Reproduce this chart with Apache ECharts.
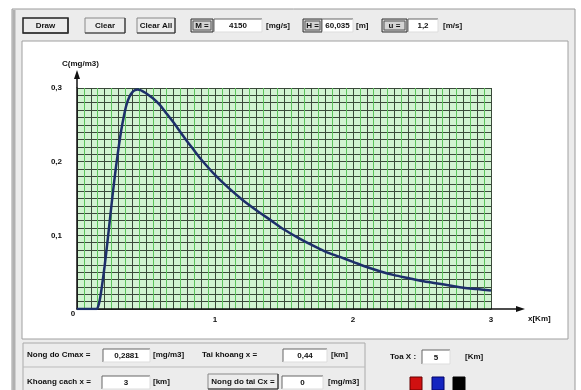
<!DOCTYPE html>
<html><head><meta charset="utf-8">
<script src="https://cdn.jsdelivr.net/npm/echarts@6/dist/echarts.min.js"></script>
<style>html,body{margin:0;padding:0;background:#fff}#c{width:581px;height:390px}</style>
</head><body><div id="c"></div>
<script>
// distance x [km]
const xKm = [0, 0.05, 0.1, 0.14, 0.16, 0.18, 0.2, 0.22, 0.24, 0.26, 0.28, 0.3, 0.32, 0.34, 0.36, 0.38, 0.4, 0.42, 0.44, 0.46, 0.48, 0.5, 0.55, 0.6, 0.65, 0.7, 0.75, 0.8, 0.85, 0.9, 1.0, 1.1, 1.2, 1.3, 1.4, 1.5, 1.6, 1.7, 1.8, 1.9, 2.0, 2.1, 2.2, 2.3, 2.4, 2.5, 2.6, 2.7, 2.8, 2.9, 3.0];
// concentration C [mg/m3]
const cVal = [0, 0, 0, 0, 0.008, 0.030, 0.058, 0.090, 0.124, 0.158, 0.189, 0.217, 0.242, 0.262, 0.278, 0.288, 0.294, 0.297, 0.298, 0.297, 0.295, 0.293, 0.286, 0.277, 0.265, 0.253, 0.240, 0.227, 0.215, 0.203, 0.182, 0.164, 0.148, 0.134, 0.121, 0.108, 0.097, 0.087, 0.078, 0.071, 0.064, 0.057, 0.051, 0.046, 0.042, 0.038, 0.035, 0.032, 0.029, 0.027, 0.025];
const yTickLabels = ['0,1', '0,2', '0,3'];
const xTickLabels = ['1', '2', '3'];
const topFields = { M: '4150', H: '60,035', u: '1,2' };
const bottomFields = { cmax: '0,2881', xmax: '0,44', dist: '3', cx: '0', toaX: '5' };

const FONT = 'Liberation Sans, Arial, sans-serif';
const g = [];
function rect(x, y, w, h, fill, stroke, lw, z) {
  g.push({ type: 'rect', z: z == null ? 50 : z, shape: { x, y, width: w, height: h }, style: { fill: fill || 'none', stroke: stroke || null, lineWidth: lw || 1 }, silent: true });
}
function line(x1, y1, x2, y2, stroke, lw, z) {
  g.push({ type: 'line', z: z == null ? 50 : z, shape: { x1, y1, x2, y2 }, style: { stroke, lineWidth: lw || 1 }, silent: true });
}
function text(t, x, y, align, size) {
  g.push({ type: 'text', z: 60, x, y, style: { text: t, fill: '#111', font: 'bold ' + (size || 8) + 'px ' + FONT, textAlign: align || 'left', textVerticalAlign: 'middle' }, silent: true });
}
function textbox(x, y, w, h, t) {
  rect(x, y, w, h, '#fff', null);
  line(x, y, x + w, y, '#666', 1); line(x, y, x, y + h, '#666', 1);
  line(x, y + h, x + w, y + h, '#ddd', 1); line(x + w, y, x + w, y + h, '#ddd', 1);
  text(t, x + w / 2, y + h / 2 + 0.5, 'center');
}
function button(x, y, w, h, t, strong) {
  rect(x, y, w, h, '#ececec', strong ? '#222' : '#888', strong ? 1.5 : 1);
  line(x + w, y, x + w, y + h, '#333', 1.2); line(x, y + h, x + w, y + h, '#333', 1.2);
  text(t, x + w / 2, y + h / 2 + 0.5, 'center');
}
function boxLabel(x, y, w, h, t) {
  rect(x, y, w, h, '#d4d4d4', '#333', 1);
  rect(x + 2, y + 2, w - 4, h - 4, null, '#555', 1);
  text(t, x + w / 2, y + h / 2 + 0.5, 'center');
}

// window frame (behind everything)
rect(12, 9, 563, 385, '#ececec', '#9a9a9a', 1, -20);
line(14, 10, 14, 390, '#b0b0b0', 3, -19);
// chart panel
rect(22, 41, 546, 298, '#fff', '#a0a0a0', 1, -18);
// top controls
button(23, 18, 45, 15, 'Draw', true);
button(85, 18, 40, 15, 'Clear');
button(137, 18, 38, 15, 'Clear All');
boxLabel(191, 19, 22, 13, 'M =');
textbox(214, 19, 48, 13, topFields.M);
text('[mg/s]', 266, 26);
boxLabel(303, 19, 19, 13, 'H =');
textbox(322, 19, 31, 13, topFields.H);
text('[m]', 356, 26);
boxLabel(382, 19, 25, 13, 'u =');
textbox(408, 19, 30, 13, topFields.u);
text('[m/s]', 443, 26);
// bottom group
rect(23, 343, 342, 50, null, '#aaa', 1);
line(23, 367, 365, 367, '#bbb', 1);
text('Nong do Cmax =', 27, 355);
textbox(103, 349, 47, 13, bottomFields.cmax);
text('[mg/m3]', 153, 355);
text('Tai khoang x =', 202, 355);
textbox(283, 349, 44, 13, bottomFields.xmax);
text('[km]', 331, 355);
text('Khoang cach x =', 27, 382);
textbox(102, 376, 48, 13, bottomFields.dist);
text('[km]', 153, 382);
button(208, 374, 70, 15, 'Nong do tai Cx =');
textbox(282, 376, 41, 13, bottomFields.cx);
text('[mg/m3]', 328, 382);
text('Toa X :', 390, 357);
textbox(422, 350, 28, 14, bottomFields.toaX);
text('[Km]', 465, 357);
rect(410, 377, 12, 13, '#d01010', '#600', 1);
rect(432, 377, 12, 13, '#1424c0', '#006', 1);
rect(453, 377, 12, 13, '#000', '#000', 1);
// axis extensions with arrows
line(491, 309, 519, 309, '#111', 1.5);
g.push({ type: 'polygon', z: 50, shape: { points: [[525, 309], [516, 306], [516, 312]] }, style: { fill: '#111' }, silent: true });
line(77, 88, 77, 76, '#111', 1.5);
g.push({ type: 'polygon', z: 50, shape: { points: [[77, 70], [74, 79], [80, 79]] }, style: { fill: '#111' }, silent: true });
text('x[Km]', 528, 319);
text('C(mg/m3)', 62, 64);
text('0', 73, 314, 'center');

const chart = echarts.init(document.getElementById('c'), null, { renderer: 'canvas' });
chart.setOption({
  animation: false,
  backgroundColor: '#fff',
  grid: { left: 77, top: 88, width: 414, height: 221, show: true, backgroundColor: '#d2f3d2', borderWidth: 0, containLabel: false },
  xAxis: {
    type: 'value', min: 0, max: 3, interval: 0.1,
    axisLine: { show: true, lineStyle: { color: '#111', width: 1.5 } },
    axisTick: { show: false },
    minorTick: { show: false, splitNumber: 2 },
    splitLine: { show: true, lineStyle: { color: '#3a4a3a', width: 1 } },
    minorSplitLine: { show: true, lineStyle: { color: '#5cc45c', width: 1 } },
    axisLabel: {
      margin: 7, color: '#111', fontSize: 8, fontWeight: 'bold', fontFamily: FONT,
      formatter: v => { const r = Math.round(v); return (Math.abs(v - r) < 1e-6 && r > 0) ? xTickLabels[r - 1] : ''; }
    }
  },
  yAxis: {
    type: 'value', min: 0, max: 0.3, interval: 0.01,
    axisLine: { show: true, lineStyle: { color: '#111', width: 1.5 } },
    axisTick: { show: false },
    splitLine: { show: true, lineStyle: { color: '#3a4a3a', width: 1 } },
    axisLabel: {
      margin: 15, color: '#111', fontSize: 8, fontWeight: 'bold', fontFamily: FONT,
      formatter: v => { const r = Math.round(v * 10); return (Math.abs(v * 10 - r) < 1e-6 && r > 0) ? yTickLabels[r - 1] : ''; }
    }
  },
  series: [{
    type: 'line', data: xKm.map((x, i) => [x, cVal[i]]), showSymbol: false, smooth: 0.3,
    lineStyle: { color: '#1d2f6a', width: 2.5 }, z: 5
  }],
  graphic: g
});
</script></body></html>
